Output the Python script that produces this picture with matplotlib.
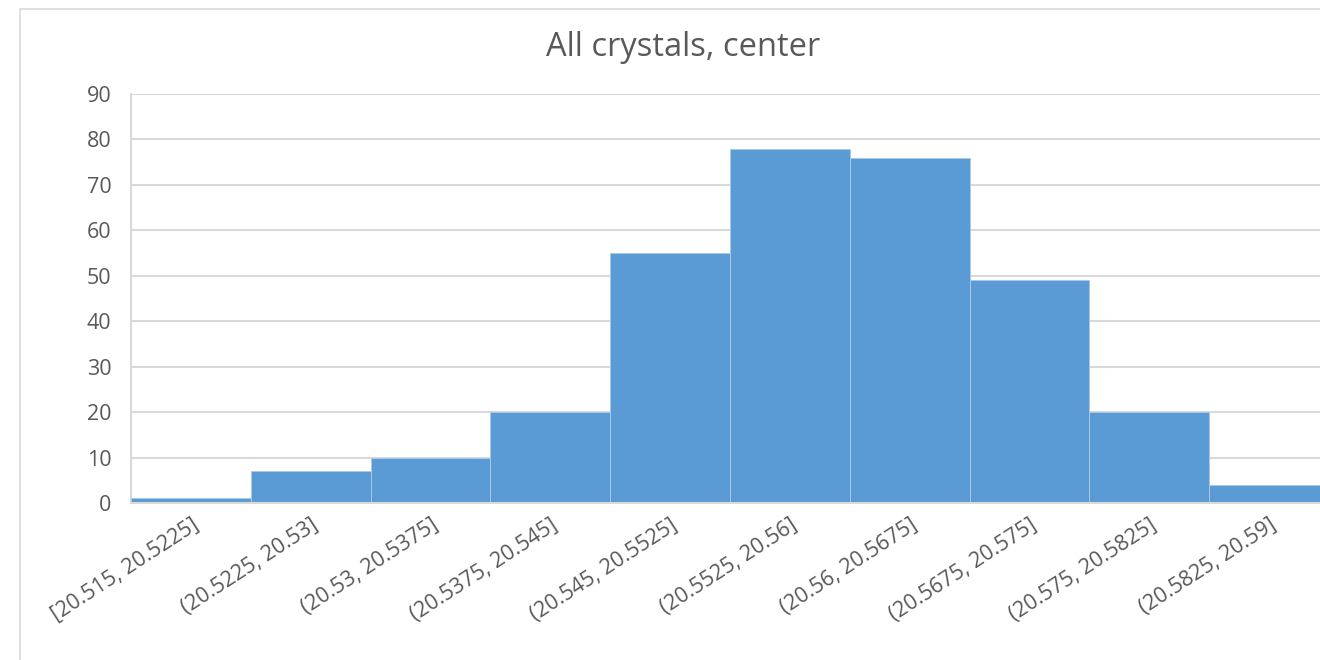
import matplotlib
matplotlib.use("Agg")
import matplotlib.pyplot as plt
import matplotlib.patches as mpatches
import numpy as np

# histogram bins and counts
bins = [
    "[20.515, 20.5225]",
    "(20.5225, 20.53]",
    "(20.53, 20.5375]",
    "(20.5375, 20.545]",
    "(20.545, 20.5525]",
    "(20.5525, 20.56]",
    "(20.56, 20.5675]",
    "(20.5675, 20.575]",
    "(20.575, 20.5825]",
    "(20.5825, 20.59]",
]
counts = [1, 7, 10, 20, 55, 78, 76, 49, 20, 4]
y_ticks = list(range(0, 100, 10))

plt.rcParams["font.family"] = ["Open Sans", "DejaVu Sans"]
text_color = "#595959"
grid_color = "#d9d9d9"
bar_color = "#5b9bd5"

fig = plt.figure(figsize=(13.2, 6.6), dpi=100)
# plot area runs slightly past the right edge of the picture
ax = fig.add_axes([131 / 1320, 1 - 503 / 660, 1198 / 1320, (503 - 94) / 660])

# outer chart border (cut off on right and bottom)
fig.patches.append(
    mpatches.Rectangle(
        (20 / 1320, -0.1), 1.2, 1 - 9 / 660 + 0.1,
        transform=fig.transFigure, fill=False, edgecolor=grid_color, linewidth=1.2,
    )
)

x = np.arange(len(bins))
ax.bar(x, counts, width=1.0, color=bar_color, edgecolor="#a9c9e8", linewidth=0.7, zorder=3)

ax.set_xlim(-0.5, len(bins) - 0.5)
ax.set_ylim(0, 90)
ax.set_yticks(y_ticks)
ax.set_yticklabels([str(v) for v in y_ticks], fontsize=15.5, color=text_color)
ax.tick_params(axis="y", length=0, pad=14)
ax.tick_params(axis="x", length=0, pad=8)
ax.set_xticks(x)
ax.set_xticklabels(bins, rotation=33, ha="right", rotation_mode="anchor",
                   fontsize=15.5, color=text_color)

ax.grid(axis="y", color=grid_color, linewidth=1.5, zorder=0)
ax.set_axisbelow(True)
for side in ["top", "right"]:
    ax.spines[side].set_visible(False)
ax.spines["left"].set_color(grid_color)
ax.spines["left"].set_linewidth(1.5)
ax.spines["bottom"].set_color(grid_color)
ax.spines["bottom"].set_linewidth(1.5)
ax.spines["bottom"].set_zorder(4)

fig.text(683 / 1320, 1 - 47 / 660, "All crystals, center", ha="center", va="center",
         fontsize=23.5, color=text_color)

fig.savefig("out.png", dpi=100)
